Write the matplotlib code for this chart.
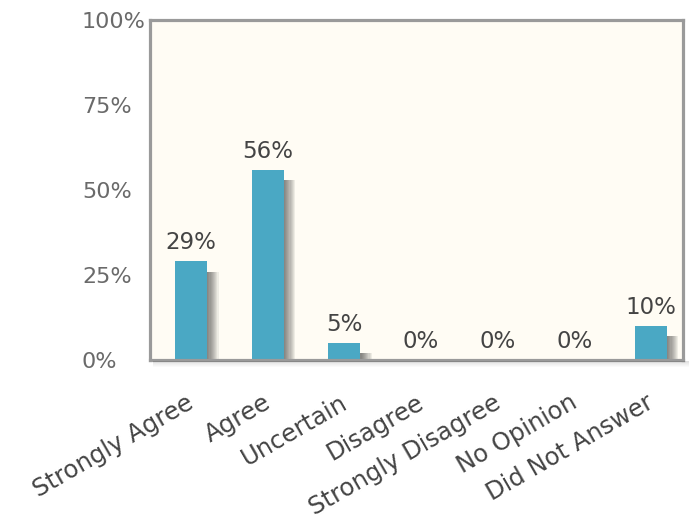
import numpy as np
import matplotlib
matplotlib.use("Agg")
import matplotlib.pyplot as plt
from matplotlib.patches import Rectangle
from matplotlib.transforms import ScaledTranslation

categories = ["Strongly Agree", "Agree", "Uncertain", "Disagree",
              "Strongly Disagree", "No Opinion", "Did Not Answer"]
values = [29, 56, 5, 0, 0, 0, 10]
labels = ["29%", "56%", "5%", "0%", "0%", "0%", "10%"]
yticks = [0, 25, 50, 75, 100]
ytick_labels = ["0%", "25%", "50%", "75%", "100%"]

bar_color = "#4aa8c4"
bg_color = "#fffcf4"
frame_color = "#9a9a9a"
bar_w = 0.42

fig = plt.figure(figsize=(6.89, 5.21), dpi=100)
ax = fig.add_axes([150 / 689, 1 - 360 / 521, 533 / 689, 340 / 521])
ax.set_facecolor(bg_color)

x = np.arange(len(categories))
vals = np.array(values, dtype=float)

# soft shadow on the right side of each bar
n_steps = 10
for i in range(n_steps):
    sw = 0.15 * (1 - i / n_steps)
    top = np.maximum(vals - 3, 0)
    ax.bar(x + bar_w / 2, top, width=sw, align="edge",
           color="#303030", alpha=0.08, linewidth=0, zorder=1)

ax.bar(x, vals, width=bar_w, color=bar_color, linewidth=0, zorder=2)

for xi, v, lab in zip(x, vals, labels):
    ax.annotate(lab, (xi, v), xytext=(0, 5), textcoords="offset points",
                ha="center", va="bottom", fontsize=16.5, color="#444444")

ax.set_xlim(-0.535, 6.42)
ax.set_ylim(0, 100)
ax.set_yticks(yticks)
ax.set_yticklabels(ytick_labels, fontsize=16, color="#6a6a6a")
ax.tick_params(axis="y", length=0, pad=49)
for t in ax.get_yticklabels():
    t.set_horizontalalignment("left")

ax.set_xticks(x)
ax.set_xticklabels(categories, rotation=30, ha="right", va="top",
                   rotation_mode="anchor", fontsize=17.5, color="#444444")
ax.tick_params(axis="x", length=0, pad=22)
shift = ScaledTranslation(-5 / 100, 0, fig.dpi_scale_trans)
for t in ax.get_xticklabels():
    t.set_transform(t.get_transform() + shift)

for s in ax.spines.values():
    s.set_color(frame_color)
    s.set_linewidth(2.3)

# shadow under the bottom of the frame
for i in range(6):
    fig.patches.append(Rectangle((153 / 689, 1 - (362 + i) / 521),
                                 (689 - 153) / 689, 1 / 521,
                                 transform=fig.transFigure,
                                 color="#000000", alpha=0.12 * (1 - i / 6),
                                 linewidth=0))

fig.savefig("out.png", dpi=100)
